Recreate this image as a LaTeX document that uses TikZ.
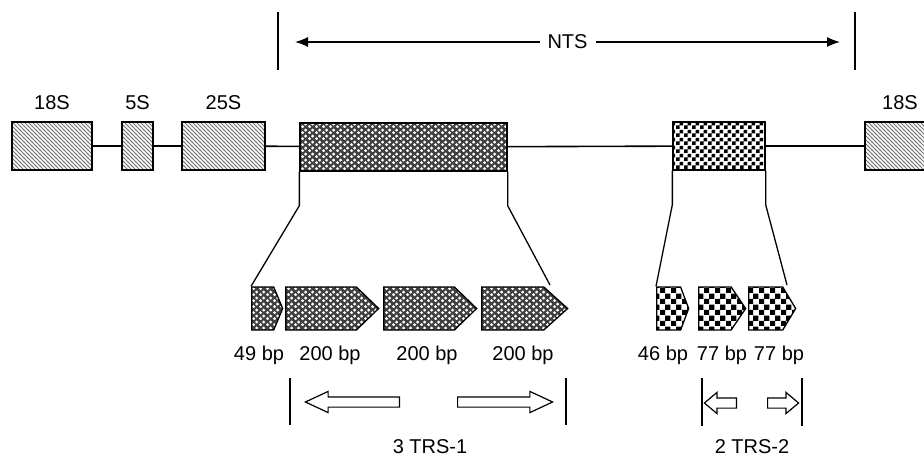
\documentclass[tikz,border=0pt]{standalone}
\usepackage{fontspec}
\setmainfont{Liberation Sans}
\usetikzlibrary{patterns, shapes.symbols, shapes.arrows, arrows.meta}

% fill patterns of the map
\pgfdeclarepatternformonly{hatch}{\pgfqpoint{-1pt}{-1pt}}{\pgfqpoint{5pt}{5pt}}{\pgfqpoint{4pt}{4pt}}{%
  \pgfsetlinewidth{0.9pt}%
  \pgfpathmoveto{\pgfqpoint{-0.5pt}{4.5pt}}\pgfpathlineto{\pgfqpoint{4.5pt}{-0.5pt}}%
  \pgfusepath{stroke}}
\pgfdeclarepatternformonly{holes}{\pgfqpoint{0pt}{0pt}}{\pgfqpoint{7pt}{6pt}}{\pgfqpoint{7pt}{6pt}}{%
  \pgfpathcircle{\pgfqpoint{1.75pt}{1.5pt}}{1.8pt}%
  \pgfpathcircle{\pgfqpoint{5.25pt}{4.5pt}}{1.8pt}%
  \pgfusepath{fill}}
\pgfdeclarepatternformonly{chequer}{\pgfqpoint{0pt}{0pt}}{\pgfqpoint{7.6pt}{7.6pt}}{\pgfqpoint{7.6pt}{7.6pt}}{%
  \pgfpathrectangle{\pgfqpoint{0pt}{0pt}}{\pgfqpoint{3.8pt}{3.8pt}}%
  \pgfpathrectangle{\pgfqpoint{3.8pt}{3.8pt}}{\pgfqpoint{3.8pt}{3.8pt}}%
  \pgfusepath{fill}}
\pgfdeclarepatternformonly{bigchequer}{\pgfqpoint{0pt}{0pt}}{\pgfqpoint{11pt}{11pt}}{\pgfqpoint{11pt}{11pt}}{%
  \pgfpathrectangle{\pgfqpoint{0pt}{0pt}}{\pgfqpoint{5.5pt}{5.5pt}}%
  \pgfpathrectangle{\pgfqpoint{5.5pt}{5.5pt}}{\pgfqpoint{5.5pt}{5.5pt}}%
  \pgfusepath{fill}}

\tikzset{
  rrna/.style={draw, line width=1.3pt, minimum height=48, inner sep=0pt,
    preaction={fill=white}, pattern=hatch, pattern color=black!55},
  trs1/.style={preaction={fill=black!75}, pattern=holes, pattern color=white},
  trs2/.style={preaction={fill=white}, pattern=chequer, pattern color=black},
  trs2u/.style={preaction={fill=white}, pattern=bigchequer, pattern color=black},
  block/.style={draw, line width=1.3pt, minimum height=48, inner sep=0pt},
  unit/.style={signal, signal to=east, signal from=nowhere, draw, line width=1.3pt,
    minimum height=43, inner sep=0pt, anchor=west},
  hollow/.style={single arrow, draw, fill=white, line width=1.2pt, inner xsep=0pt,
    inner ysep=4.5pt, single arrow head extend=5.5pt, anchor=tail},
  link/.style={line width=1.3pt},
  bar/.style={line width=1.8pt},
  lbl/.style={anchor=base, inner sep=0pt}
}

\begin{document}
\begin{tikzpicture}[x=1pt, y=-1pt, font=\fontsize{20}{24}\selectfont]
  \useasboundingbox (0,0) rectangle (924,458);
  \clip (0,0) rectangle (924,458);

  % NTS span
  \coordinate (ntsL) at (278,12);
  \coordinate (ntsR) at (855,12);
  \draw[bar] (ntsL) -- ++(0,58);
  \draw[bar] (ntsR) -- ++(0,58);
  \coordinate (ntsa) at (295,42);
  \coordinate (ntsb) at (840,42);
  \draw[link, {Latex[length=13pt,width=10pt]}-{Latex[length=13pt,width=10pt]}] (ntsa) -- (ntsb);
  \node[fill=white, inner xsep=8pt, inner ysep=2pt] (nts) at (567.5,42) {NTS};

  % rDNA unit
  \node[rrna, minimum width=80] (s18a) at (52,146) {};
  \node[rrna, minimum width=31] (s5) at (137.5,146) {};
  \node[rrna, minimum width=83] (s25) at (223.5,146) {};
  \node[block, trs1, minimum width=207] (spa) at (403.5,147) {};
  \node[block, trs2, minimum width=92] (spb) at (719,146) {};
  \node[rrna, minimum width=80] (s18b) at (905,146) {};
  \draw[link, line width=1.6pt] (s18a) -- (s5) (s5) -- (s25) (s25) -- (spa)
    (spa) -- (spb) (spb) -- (s18b);

  \node[lbl] at (52,109) {18S};
  \node[lbl] at (137.5,109) {5S};
  \node[lbl] at (223.5,109) {25S};
  \node[lbl] at (900,109) {18S};

  % TRS-1 repeats
  \node[unit, trs1, minimum width=31, signal pointer angle=135] (r1) at (251,308.5) {};
  \node[unit, trs1, minimum width=93, signal pointer angle=88] (r2) at (285,308.5) {};
  \node[unit, trs1, minimum width=93, signal pointer angle=88] (r3) at (383,308.5) {};
  \node[unit, trs1, minimum width=86, signal pointer angle=84] (r4) at (481,308.5) {};
  \node[lbl] at (259,360) {49 bp};
  \node[lbl] at (330,360) {200 bp};
  \node[lbl] at (427,360) {200 bp};
  \node[lbl] at (523,360) {200 bp};

  % TRS-2 repeats
  \node[unit, trs2u, minimum width=32, signal pointer angle=139] (q1) at (656,308.5) {};
  \node[unit, trs2u, minimum width=47, signal pointer angle=112] (q2) at (698,308.5) {};
  \node[unit, trs2u, minimum width=47, signal pointer angle=118] (q3) at (748,308.5) {};
  \node[lbl] at (663,360) {46 bp};
  \node[lbl] at (722,360) {77 bp};
  \node[lbl] at (779,360) {77 bp};

  % zoom lines
  \draw[link] (spa.south west) -- ++(0,34) -- (r1.north west);
  \draw[link] (spa.south east) -- ++(0,34) -- (550,285);
  \draw[link] (spb.south west) -- ++(0,34) -- (q1.north west);
  \draw[link] (spb.south east) -- ++(0,34) -- (787,285);

  % orientation of the repeats
  \draw[bar] (290,378) -- (290,425);
  \draw[bar] (566,378) -- (566,425);
  \node[hollow, minimum height=94, single arrow tip angle=50, shape border rotate=180] (o1) at (400,402) {};
  \node[hollow, minimum height=95, single arrow tip angle=50] (o2) at (457,402) {};
  \node[lbl] at (430,453) {3 TRS-1};

  \draw[bar] (702,378) -- (702,426);
  \draw[bar] (802,378) -- (802,426);
  \node[hollow, minimum height=32, single arrow tip angle=80, shape border rotate=180] (o3) at (737,403) {};
  \node[hollow, minimum height=31, single arrow tip angle=80] (o4) at (767,403) {};
  \node[lbl] at (752,453) {2 TRS-2};
\end{tikzpicture}
\end{document}
